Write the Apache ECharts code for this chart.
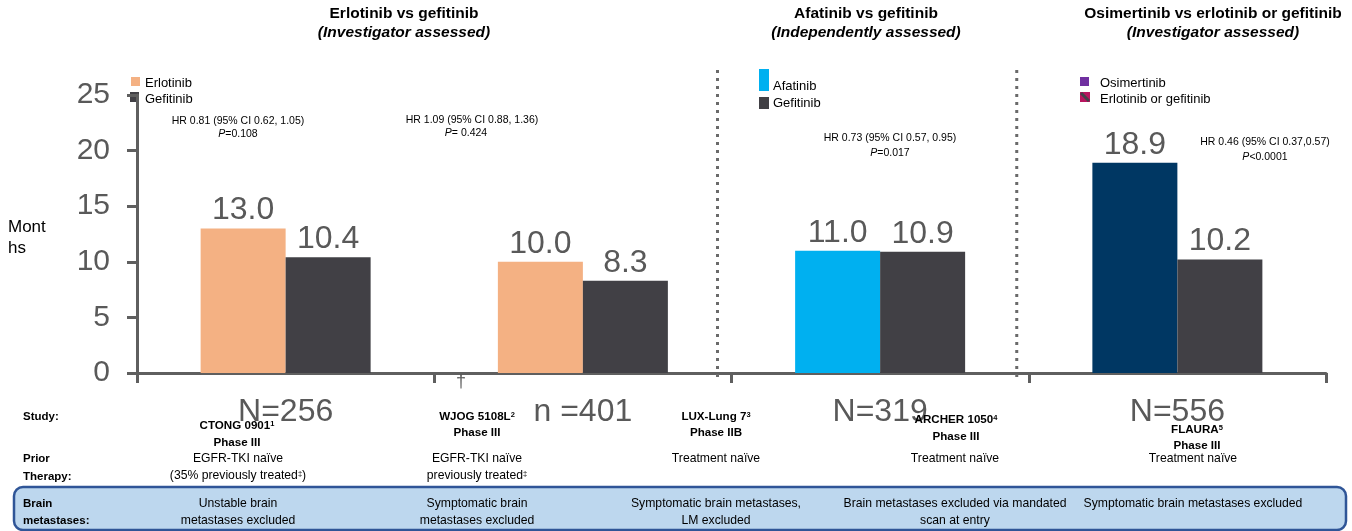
<!DOCTYPE html>
<html>
<head>
<meta charset="utf-8">
<script src="https://cdn.jsdelivr.net/npm/echarts@6/dist/echarts.min.js"></script>
<style>
  html, body { margin: 0; padding: 0; background: #ffffff; }
  #chart { width: 1352px; height: 531px; }
</style>
</head>
<body>
<div id="chart"></div>
<script>
// Median PFS (months): first-named drug vs comparator, one group per trial
const trialSizes = ['N=256', 'n =401', 'N=319', 'N=556'];
const testArmMonths = [13.0, 10.0, 11.0, 18.9];
const comparatorMonths = [10.4, 8.3, 10.9, 10.2];
const yAxisMax = 25;
const yAxisStep = 5;

// Panel headings
const comparisonTitles = ['Erlotinib vs gefitinib', 'Afatinib vs gefitinib', 'Osimertinib vs erlotinib or gefitinib'];
const assessmentNotes = ['(Investigator assessed)', '(Independently assessed)', '(Investigator assessed)'];

// Hazard ratios and p-values per trial
const hazardRatios = ['HR 0.81 (95% CI 0.62, 1.05)', 'HR 1.09 (95% CI 0.88, 1.36)', 'HR 0.73 (95% CI 0.57, 0.95)', 'HR 0.46 (95% CI 0.37,0.57)'];
const pValues = ['=0.108', '= 0.424', '=0.017', '<0.0001'];

// Study table
const studyNames = ['CTONG 0901', 'WJOG 5108L', 'LUX-Lung 7', 'ARCHER 1050', 'FLAURA'];
const studyRefs = ['1', '2', '3', '4', '5'];
const studyPhases = ['Phase III', 'Phase III', 'Phase IIB', 'Phase III', 'Phase III'];
const priorTherapy = [
  ['EGFR-TKI naïve', '(35% previously treated{s|‡})'],
  ['EGFR-TKI naïve', 'previously treated{s|‡}'],
  ['Treatment naïve'],
  ['Treatment naïve'],
  ['Treatment naïve']
];
const brainMetastases = [
  ['Unstable brain', 'metastases excluded'],
  ['Symptomatic brain', 'metastases excluded'],
  ['Symptomatic brain metastases,', 'LM excluded'],
  ['Brain metastases excluded via mandated', 'scan at entry'],
  ['Symptomatic brain metastases excluded']
];

// Styling
const FONT = 'Liberation Sans';
const AXIS_GREY = '#5f5f5f';
const LABEL_GREY = '#595959';
const testArmColors = ['#F4B183', '#F4B183', '#00B0F0', '#003763'];
const comparatorColor = '#414045';

const chart = echarts.init(document.getElementById('chart'), null, { renderer: 'canvas' });

function txt(x, y, text, o) {
  o = o || {};
  return {
    type: 'text', x: x, y: y, z: 10,
    style: {
      text: text,
      fill: o.fill || '#000000',
      fontFamily: FONT,
      fontSize: o.size || 12,
      fontWeight: o.bold ? 'bold' : 'normal',
      fontStyle: o.italic ? 'italic' : 'normal',
      align: o.align || 'center', textAlign: o.align || 'center',
      verticalAlign: 'middle', textVerticalAlign: 'middle',
      rich: o.rich
    }
  };
}

const supRich = (size, bold) => ({
  s: { fontFamily: FONT, fontSize: size, fontWeight: bold ? 'bold' : 'normal', verticalAlign: 'top', fill: '#000', padding: [0, 0, 5, 0] }
});

const option = {
  animation: false,
  title: comparisonTitles.map((t, i) => ({
    text: t,
    subtext: assessmentNotes[i],
    left: [404, 866, 1213][i],
    top: 6,
    padding: 0,
    itemGap: 3,
    textAlign: 'center',
    textStyle: { fontFamily: FONT, fontSize: 15.5, fontWeight: 'bold', color: '#000000' },
    subtextStyle: { fontFamily: FONT, fontSize: 15.5, fontWeight: 'bold', fontStyle: 'italic', color: '#000000' }
  })),
  grid: { left: 137, right: 26, top: 95, bottom: 158 },
  xAxis: {
    type: 'category',
    data: trialSizes,
    axisLine: { lineStyle: { color: AXIS_GREY, width: 3 } },
    axisTick: { show: true, length: 10, lineStyle: { color: AXIS_GREY, width: 3 } },
    axisLabel: { fontFamily: FONT, fontSize: 32, color: LABEL_GREY, margin: 23 }
  },
  yAxis: {
    type: 'value',
    min: 0, max: yAxisMax, interval: yAxisStep,
    splitLine: { show: false },
    axisLine: { show: true, lineStyle: { color: AXIS_GREY, width: 3 } },
    axisTick: { show: true, length: 10, lineStyle: { color: AXIS_GREY, width: 3 } },
    axisLabel: { fontFamily: FONT, fontSize: 30, color: LABEL_GREY, margin: 27 }
  },
  series: [
    {
      type: 'bar',
      barWidth: 85,
      barGap: '0%',
      data: testArmMonths.map((v, i) => ({ value: v, itemStyle: { color: testArmColors[i] } })),
      label: { show: true, position: 'top', distance: 2, fontFamily: FONT, fontSize: 32, color: LABEL_GREY, formatter: p => p.value.toFixed(1) }
    },
    {
      type: 'bar',
      barWidth: 85,
      barGap: '0%',
      data: comparatorMonths,
      itemStyle: { color: comparatorColor },
      label: { show: true, position: 'top', distance: 2, fontFamily: FONT, fontSize: 32, color: LABEL_GREY, formatter: p => p.value.toFixed(1) }
    }
  ]
};
chart.setOption(option);

// Annotations, legends, separators and study table
const g = [];

// y-axis name
g.push(txt(8, 227, 'Mont', { size: 17, align: 'left' }));
g.push(txt(8, 248, 'hs', { size: 17, align: 'left' }));

// legends
g.push({ type: 'rect', shape: { x: 131, y: 77, width: 9, height: 9 }, style: { fill: '#F4B183' } });
g.push(txt(145, 83, 'Erlotinib', { size: 13, align: 'left' }));
g.push({ type: 'rect', shape: { x: 130, y: 92, width: 9, height: 10 }, style: { fill: comparatorColor } });
g.push(txt(145, 99, 'Gefitinib', { size: 13, align: 'left' }));

g.push({ type: 'rect', shape: { x: 759, y: 69, width: 10, height: 22 }, style: { fill: '#00B0F0' } });
g.push(txt(773, 86, 'Afatinib', { size: 13, align: 'left' }));
g.push({ type: 'rect', shape: { x: 759, y: 97, width: 10, height: 12 }, style: { fill: comparatorColor } });
g.push(txt(773, 103, 'Gefitinib', { size: 13, align: 'left' }));

g.push({ type: 'rect', shape: { x: 1080, y: 77, width: 9, height: 9 }, style: { fill: '#7030A0' } });
g.push(txt(1100, 83, 'Osimertinib', { size: 13, align: 'left' }));
g.push({ type: 'rect', shape: { x: 1080, y: 92, width: 10, height: 10 }, style: { fill: '#B8155F' } });
g.push({ type: 'line', shape: { x1: 1081, y1: 93, x2: 1089, y2: 101 }, style: { stroke: '#45404a', lineWidth: 3 } });
g.push(txt(1100, 99, 'Erlotinib or gefitinib', { size: 13, align: 'left' }));

// hazard ratios
const hrPos = [[238, 121, 238, 134], [472, 120, 466, 133], [890, 138, 890, 153], [1265, 142, 1265, 157]];
hazardRatios.forEach((hr, i) => {
  const p = hrPos[i];
  g.push(txt(p[0], p[1], hr, { size: 10.5 }));
  g.push(txt(p[2], p[3], '{i|P}' + pValues[i], {
    size: 10.5,
    rich: { i: { fontFamily: FONT, fontSize: 10.5, fontStyle: 'italic', fill: '#000' } }
  }));
});

// dagger under the axis
g.push(txt(461, 382, '†', { size: 18, fill: LABEL_GREY }));

// table row headers
g.push(txt(23, 417, 'Study:', { size: 11.5, bold: true, align: 'left' }));
g.push(txt(23, 459, 'Prior', { size: 11.5, bold: true, align: 'left' }));
g.push(txt(23, 477, 'Therapy:', { size: 11.5, bold: true, align: 'left' }));

// brain metastases band
g.push({ type: 'rect', z: 1, shape: { x: 14, y: 487, width: 1332, height: 43, r: 9 }, style: { fill: '#BDD7EE', stroke: '#2F5597', lineWidth: 2.5 } });
g.push(txt(23, 504, 'Brain', { size: 11.5, bold: true, align: 'left' }));
g.push(txt(23, 521, 'metastases:', { size: 11.5, bold: true, align: 'left' }));

const colX = [237, 477, 716, 956, 1197];
const studyY = [[426, 443], [417, 433], [417, 433], [420, 437], [430, 446]];
studyNames.forEach((name, i) => {
  g.push(txt(colX[i], studyY[i][0], name + '{s|' + studyRefs[i] + '}', { size: 11.6, bold: true, rich: supRich(7.5, true) }));
  g.push(txt(colX[i], studyY[i][1], studyPhases[i], { size: 11.6, bold: true }));
});
const tableX = [238, 477, 716, 955, 1193];
priorTherapy.forEach((lines, i) => {
  lines.forEach((line, j) => g.push(txt(tableX[i], 459 + j * 17, line, { size: 12.2, rich: supRich(7.5, false) })));
});
brainMetastases.forEach((lines, i) => {
  lines.forEach((line, j) => g.push(txt(tableX[i], 504 + j * 17, line, { size: 12.2 })));
});

// dotted separators between panels, just left of the category boundaries
const c1 = chart.convertToPixel({ xAxisIndex: 0 }, 1);
const c2 = chart.convertToPixel({ xAxisIndex: 0 }, 2);
const c3 = chart.convertToPixel({ xAxisIndex: 0 }, 3);
[[(c1 + c2) / 2 - 14], [(c2 + c3) / 2 - 12]].forEach(([x]) => {
  g.push({ type: 'line', z: 5, shape: { x1: x, y1: 70, x2: x, y2: 378 }, style: { stroke: '#6a6a6a', lineWidth: 3, lineDash: [3, 5] } });
});

chart.setOption({ graphic: { elements: g } });
</script>
</body>
</html>
